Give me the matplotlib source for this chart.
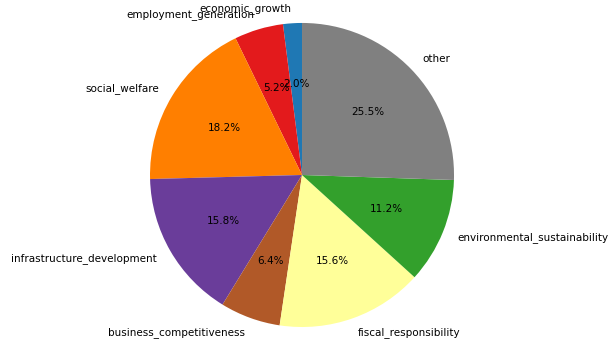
import matplotlib
matplotlib.use("Agg")
import matplotlib.pyplot as plt

labels = ["economic_growth", "employment_generation", "social_welfare",
          "infrastructure_development", "business_competitiveness",
          "fiscal_responsibility", "environmental_sustainability", "other"]
values = [2.0, 5.2, 18.2, 15.8, 6.4, 15.6, 11.2, 25.5]
colors = ["#1f78b4", "#e31a1c", "#ff7f00", "#6a3d9a", "#b15928",
          "#ffff99", "#33a02c", "#808080"]

fig = plt.figure(figsize=(6.13, 3.41), dpi=100)
ax = fig.add_axes([0, 0, 1, 1])
ax.pie(values, labels=labels, colors=colors, autopct="%1.1f%%",
       startangle=90, textprops={"fontsize": 7.5})
ax.set_aspect("auto")
ax.set_xlim(-1.987, 2.046)
ax.set_ylim(-1.092, 1.151)
ax.axis("off")
fig.savefig("out.png", dpi=100)
